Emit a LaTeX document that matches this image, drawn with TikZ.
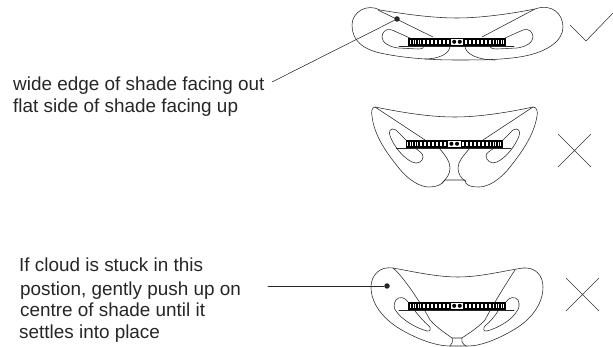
\documentclass[tikz,border=0pt]{standalone}
\usepackage{fontspec}
\setmainfont{Liberation Sans}
\newcommand{\shadebar}[3]{% left, right, top y
  \fill[black] (#1,#3) rectangle (#2,#3+7.6);
  \draw[thin line] (#1-9,#3+8) -- (#2+8,#3+8);
  \pgfmathsetmacro{\midx}{(#1+#2)/2}
  \foreach \o in {9,13,17,21,25,29,33}{
    \fill[white] (\midx+\o-.8,#3+1.8) rectangle (\midx+\o+.8,#3+5.8);
    \fill[white] (\midx-\o-.8,#3+1.8) rectangle (\midx-\o+.8,#3+5.8);
  }
  \foreach \o in {36.5,39,41.5,44,46.5}{
    \fill[white] (\midx+\o-.45,#3+1.8) rectangle (\midx+\o+.45,#3+5.8);
    \fill[white] (\midx-\o-.45,#3+1.8) rectangle (\midx-\o+.45,#3+5.8);
  }
  \fill[white] (\midx-6.3,#3+1) rectangle (\midx+6.3,#3+6.6);
  \fill[black] (\midx-2.8,#3+3.8) circle (2) (\midx+2.8,#3+3.8) circle (2);
}
\tikzset{
  x=1pt,y=-1pt,
  thin line/.style={line width=0.55pt,black!85},
  leader/.style={line width=0.55pt,black!85},
  mark line/.style={line width=0.55pt,black!80},
  lbl/.style={anchor=base west,inner sep=0pt,font=\fontsize{18.9}{20}\selectfont,text=black!85},
  dotmark/.style={circle,fill=black!85,inner sep=0pt,minimum size=5.5pt},
}
\begin{document}
\begin{tikzpicture}[line join=round,line cap=round]
\useasboundingbox (0,0) rectangle (613,347);
% --- Top shade
\draw[thin line] (380,10) .. controls (410,15) and (435,18) .. (457,18) .. controls (480,18) and (510,14) .. (535,9)
  .. controls (552,3) and (563,14) .. (563,27) .. controls (563,42) and (545,52) .. (525,56)
  .. controls (505,60) and (480,60) .. (457,60) .. controls (430,60) and (405,58) .. (385,54)
  .. controls (362,50) and (352,40) .. (352,25) .. controls (352,12) and (367,3) .. (380,10) -- cycle;
\draw[thin line] (378,10) -- (433,37) (535,9) -- (482,37);
\draw[thin line] (450,46) .. controls (450,54) and (438,59) .. (425,59);
\draw[thin line] (465,46) .. controls (465,54) and (478,60) .. (495,60);
\draw[thin line] (410,38) -- (392,30) .. controls (385,28) and (382,33) .. (382,37) .. controls (382,43) and (390,47) .. (398,48)
  -- (418,49) .. controls (422,49) and (424,48) .. (424,46);
\draw[thin line] (505,38) -- (523,30) .. controls (530,28) and (533,33) .. (533,37) .. controls (533,43) and (525,47) .. (517,48)
  -- (497,49) .. controls (493,49) and (490,48) .. (489,46);
\shadebar{408}{506}{38}
% --- Middle shade
\draw[thin line] (375,107) .. controls (405,113) and (430,117) .. (455,117) .. controls (480,117) and (510,112) .. (533,107)
  .. controls (537,107) and (538,112) .. (537,116) .. controls (534,135) and (522,152) .. (510,167)
  .. controls (500,180) and (488,187) .. (479,187) .. controls (470,187) and (465,185) .. (465,180)
  -- (445,180) .. controls (442,185) and (436,187) .. (429,187) .. controls (420,187) and (408,180) .. (398,167)
  .. controls (386,152) and (374,135) .. (372,116) .. controls (371,112) and (372,107) .. (375,107) -- cycle;
\draw[thin line] (375,107) -- (425,140) (533,107) -- (483,140);
\draw[thin line] (439,148) .. controls (446,156) and (450,162) .. (450,168) .. controls (450,174) and (447,178) .. (442,183);
\draw[thin line] (470,148) .. controls (463,156) and (458,162) .. (458,168) .. controls (458,174) and (461,178) .. (466,182);
\draw[thin line] (406,140) -- (396,130) .. controls (391,127) and (388,131) .. (390,136) .. controls (394,146) and (402,157) .. (412,162)
  .. controls (418,165) and (423,161) .. (423,157) .. controls (423,153) and (419,151) .. (415,148);
\draw[thin line] (503,140) -- (513,130) .. controls (518,127) and (521,131) .. (519,136) .. controls (515,146) and (507,157) .. (497,162)
  .. controls (491,165) and (486,160) .. (486,156) .. controls (486,153) and (490,151) .. (494,148);
\shadebar{405.5}{503}{140}
% --- Bottom shade
\draw[thin line] (393,268) .. controls (415,272) and (437,277) .. (458,277) .. controls (480,277) and (503,271) .. (523,268)
  .. controls (535,267) and (543,275) .. (543,287) .. controls (543,305) and (530,320) .. (515,329)
  .. controls (500,338) and (482,346) .. (468,346) -- (450,346)
  .. controls (435,346) and (415,338) .. (400,329) .. controls (385,320) and (371,305) .. (371,287)
  .. controls (371,275) and (380,266) .. (393,268) -- cycle;
\draw[thin line] (393,268) .. controls (405,278) and (425,310) .. (430,320) .. controls (437,328) and (448,335) .. (452,338);
\draw[thin line] (515,270) .. controls (505,285) and (490,310) .. (485,320) .. controls (478,328) and (466,335) .. (462,338);
\draw[thin line] (452,338) -- (462,338) (452,338) .. controls (453,342) and (452,344) .. (450,346) (462,338) .. controls (461,342) and (463,344) .. (466,346);
\draw[thin line] (408,302) .. controls (405,297) and (399,296) .. (396,300) .. controls (393,304) and (394,309) .. (396,311)
  .. controls (402,320) and (416,328) .. (427,331) .. controls (431,332) and (431,328) .. (429,326) .. controls (424,322) and (419,316) .. (415,311);
\draw[thin line] (506,302) .. controls (509,297) and (515,296) .. (518,300) .. controls (520,304) and (519,309) .. (517,311)
  .. controls (512,320) and (498,328) .. (487,331) .. controls (483,332) and (483,328) .. (485,326) .. controls (490,322) and (495,316) .. (498,311);
\shadebar{408}{506}{302}
% --- Marks
\draw[mark line] (570,25) -- (586,41) -- (613,13);
\draw[mark line] (558,134) -- (591,167) (591,134) -- (558,167);
\draw[mark line] (566,278) -- (599,311) (599,278) -- (566,311);
% --- Leaders and text
\node[dotmark] (dotA) at (397,19) {};
\node[dotmark] (dotB) at (387,286) {};
\coordinate (startA) at (272,82);
\coordinate (startB) at (268,286);
\draw[leader] (startA) -- (dotA);
\draw[leader] (startB) -- (dotB);
\node[lbl] (t1) at (13,90.7) {wide edge of shade facing out};
\node[lbl] (t2) at (13,112.3) {flat side of shade facing up};
\node[lbl] (t3) at (19,271.7) {If cloud is stuck in this};
\node[lbl] (t4) at (20,295) {postion, gently push up on};
\node[lbl] (t5) at (20,316.7) {centre of shade until it};
\node[lbl] (t6) at (19,338.3) {settles into place};
\end{tikzpicture}
\end{document}
